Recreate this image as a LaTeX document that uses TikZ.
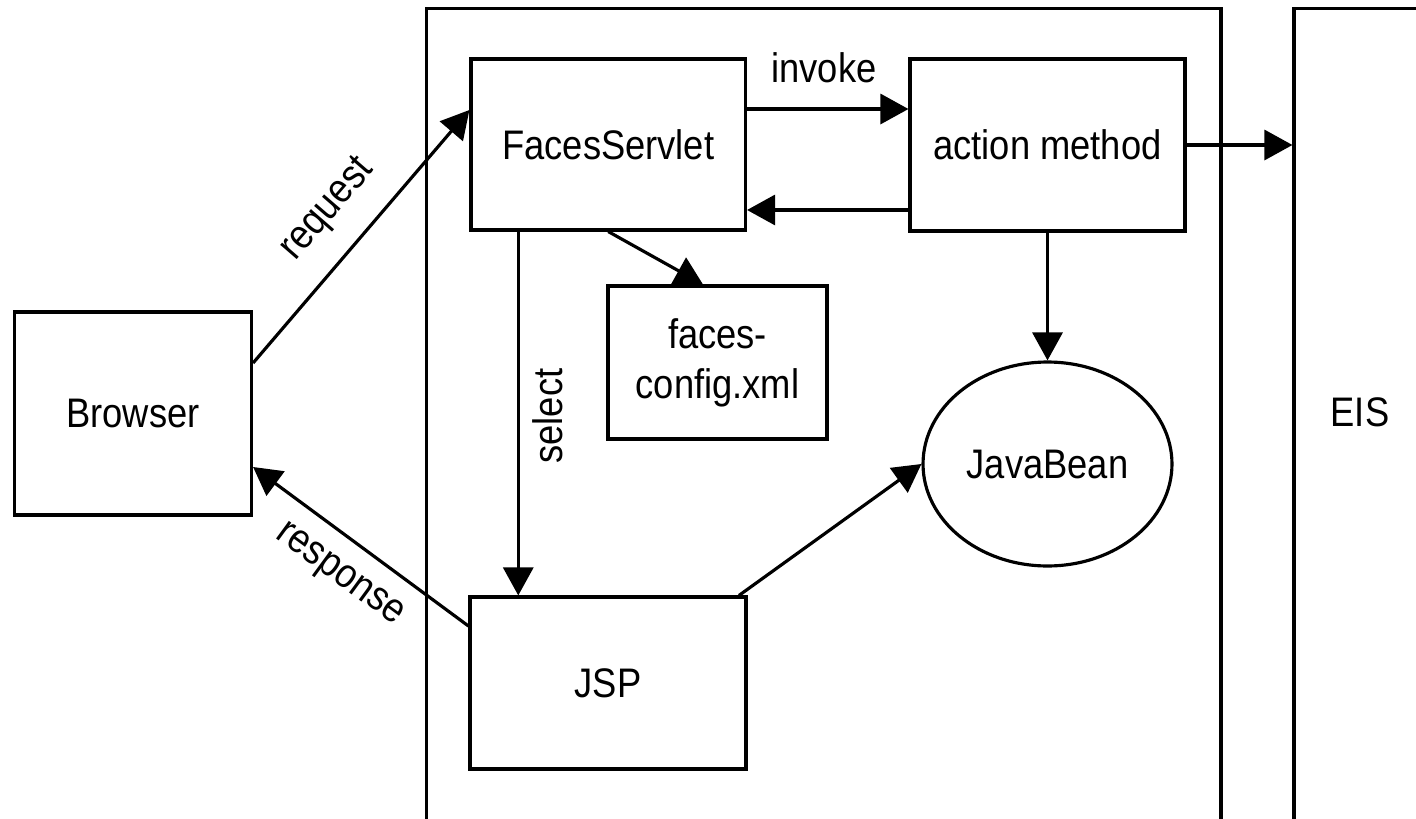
\documentclass[tikz,border=0pt]{standalone}
\usepackage{fontspec}
\setmainfont[FakeStretch=0.88]{Liberation Sans}
\usetikzlibrary{arrows.meta,shapes.geometric}

\tikzset{
  box/.style={draw, rectangle, line width=1.8pt, inner sep=0pt, align=center},
  bean/.style={draw, ellipse, line width=1.8pt, inner sep=0pt},
  arr/.style={-{Triangle[length=0.56cm,width=0.6cm]}, line width=1.8pt},
  lbl/.style={inner sep=0pt},
}

\begin{document}
\begin{tikzpicture}[x=0.02cm, y=-0.02cm, font=\fontsize{23.5}{28.4}\selectfont]
\useasboundingbox (0,0) rectangle (1416,818);
\clip (0,0) rectangle (1416,818);
% draw tiers
\node[box, minimum width=15.9cm, minimum height=17.84cm] (server) at (823.5,454) {};
\node[box, minimum width=4.12cm, minimum height=17.84cm] (eis) at (1397,454) {};
\node[lbl] (eislabel) at (1360,412) {EIS};
% draw nodes
\node[box, minimum width=4.74cm, minimum height=4.06cm] (browser) at (133,413.5) {Browser};
\node[box, minimum width=5.49cm, minimum height=3.42cm] (faces) at (608.25,144.5) {FacesServlet};
\node[box, minimum width=5.5cm, minimum height=3.44cm] (action) at (1047.5,145) {action method};
\node[box, minimum width=4.38cm, minimum height=3.06cm] (config) at (717.5,362.5) {faces-\\config.xml};
\node[box, minimum width=5.52cm, minimum height=3.44cm] (jsp) at (608,683) {JSP};
\node[bean, minimum width=4.98cm, minimum height=4.08cm] (javabean) at (1047.5,464) {JavaBean};
% draw arrows
\draw[arr] ([yshift=1.01cm]browser.east) -- ([yshift=0.69cm]faces.west);
\draw[arr] ([yshift=1.14cm]jsp.west) -- ([yshift=-1.07cm]browser.east);
\draw[arr] ([yshift=0.71cm]faces.east) -- ([yshift=0.71cm]faces.east -| action.west);
\draw[arr] ([yshift=-1.3cm]action.west) -- ([yshift=-1.3cm]action.west -| faces.east);
\draw[arr] (faces.south) -- ([xshift=-0.29cm]config.north);
\draw[arr] ([xshift=-1.8cm]faces.south) -- ([xshift=-1.8cm]faces.south |- jsp.north);
\draw[arr] (action.south) -- (javabean.north);
\draw[arr] ([xshift=2.62cm]jsp.north) -- (javabean.west);
\draw[arr] (action.east) -- (action.east -| eis.west);
% draw labels
\node[lbl, rotate=49.1] (request) at (328,210) {request};
\node[lbl, rotate=-36.2] (response) at (339,576) {response};
\node[lbl] (invoke) at (824,68) {invoke};
\node[lbl, rotate=90] (select) at (548,416) {select};
\end{tikzpicture}
\end{document}
